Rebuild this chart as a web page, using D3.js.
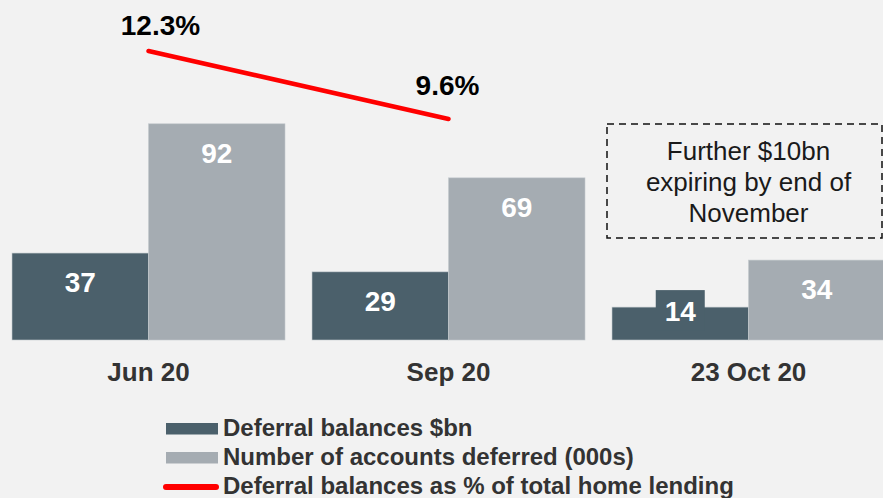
<!DOCTYPE html>
<html>
<head>
<meta charset="utf-8">
<script src="https://cdn.jsdelivr.net/npm/d3@7/dist/d3.min.js"></script>
<style>
  html, body { margin: 0; padding: 0; background: #f2f2f2; }
  svg { display: block; }
  text { font-family: "Liberation Sans", Arial, Helvetica, sans-serif; }
</style>
</head>
<body>
<svg id="chart" width="883" height="498"></svg>
<script>
const categories = ["Jun 20", "Sep 20", "23 Oct 20"];
const deferralBalances = [37, 29, 14];
const accountsDeferred = [92, 69, 34];
const pctHomeLending = [12.3, 9.6];
const pctLabels = ["12.3%", "9.6%"];
const seriesNames = ["Deferral balances $bn", "Number of accounts deferred (000s)", "Deferral balances as % of total home lending"];
const annotationLines = ["Further $10bn", "expiring by end of", "November"];

const W = 883, H = 498;
const darkColor = "#4b606b", lightColor = "#a5acb2", redColor = "#ff0000";
const svg = d3.select("#chart");
svg.append("rect").attr("width", W).attr("height", H).attr("fill", "#f2f2f2");

const x = d3.scaleBand().domain(categories).range([12, 885]).paddingInner(0.09).paddingOuter(0);
const sub = d3.scaleBand().domain(["dark", "light"]).range([0, x.bandwidth()]);
const y = d3.scaleLinear().domain([0, 100]).range([340, 105]);
const yPct = d3.scaleLinear().domain([0, 12.3]).range([361, 51]);

const rows = categories.map((c, i) => ({ c, dark: deferralBalances[i], light: accountsDeferred[i] }));

const g = svg.append("g");
rows.forEach(r => {
  ["dark", "light"].forEach(k => {
    const v = r[k];
    const bx = x(r.c) + sub(k), bw = sub.bandwidth();
    const top = y(v), h = y(0) - y(v);
    const col = k === "dark" ? darkColor : lightColor;
    g.append("rect").attr("x", bx).attr("y", top).attr("width", bw).attr("height", h)
      .attr("fill", col).attr("stroke", "#c3cace").attr("stroke-width", 0.6);
    let baseline = top + 39;
    if (h < 45) {
      g.append("rect").attr("x", bx + bw / 2 - 24.5).attr("y", top - 17).attr("width", 49).attr("height", 40)
        .attr("fill", col);
      baseline = top + 14;
    }
    g.append("text").attr("x", bx + bw / 2).attr("y", baseline).attr("text-anchor", "middle")
      .attr("font-size", 28).attr("font-weight", "bold").attr("fill", "#ffffff").text(v);
  });
});

// category labels
categories.forEach(c => {
  svg.append("text").attr("x", x(c) + x.bandwidth() / 2).attr("y", 381).attr("text-anchor", "middle")
    .attr("font-size", 26).attr("font-weight", "bold").attr("fill", "#333333").text(c);
});

// red line
const pts = pctHomeLending.map((v, i) => [x(categories[i]) + x.bandwidth() / 2, yPct(v)]);
svg.append("path").attr("d", d3.line()(pts)).attr("fill", "none").attr("stroke", redColor)
  .attr("stroke-width", 4.5).attr("stroke-linecap", "round");
const labelDx = [12, -1], labelDy = [-16, -24];
pts.forEach((p, i) => {
  svg.append("text").attr("x", p[0] + labelDx[i]).attr("y", p[1] + labelDy[i]).attr("text-anchor", "middle")
    .attr("font-size", 28).attr("font-weight", "bold").attr("fill", "#000000").text(pctLabels[i]);
});

// annotation box
const oc = categories[2];
const acx = x(oc) + x.bandwidth() / 2;
svg.append("rect").attr("x", x(oc) - 5).attr("y", 124).attr("width", 275).attr("height", 114)
  .attr("fill", "none").attr("stroke", "#111").attr("stroke-width", 1.5).attr("stroke-dasharray", "7,5");
annotationLines.forEach((t, i) => {
  svg.append("text").attr("x", acx).attr("y", 160 + i * 31).attr("text-anchor", "middle")
    .attr("font-size", 26).attr("fill", "#1a1a1a").text(t);
});

// legend
const lg = svg.append("g");
const legendY = [436, 465, 494];
seriesNames.forEach((n, i) => {
  const by = legendY[i];
  if (i < 2) {
    lg.append("rect").attr("x", 166).attr("y", by - 13).attr("width", 52).attr("height", 11.5)
      .attr("fill", i === 0 ? darkColor : lightColor);
  } else {
    lg.append("line").attr("x1", 166).attr("x2", 216).attr("y1", by - 7).attr("y2", by - 7)
      .attr("stroke", redColor).attr("stroke-width", 6).attr("stroke-linecap", "round");
  }
  lg.append("text").attr("x", 223).attr("y", by).attr("font-size", 24).attr("font-weight", "bold")
    .attr("fill", "#333333").text(n);
});
</script>
</body>
</html>
